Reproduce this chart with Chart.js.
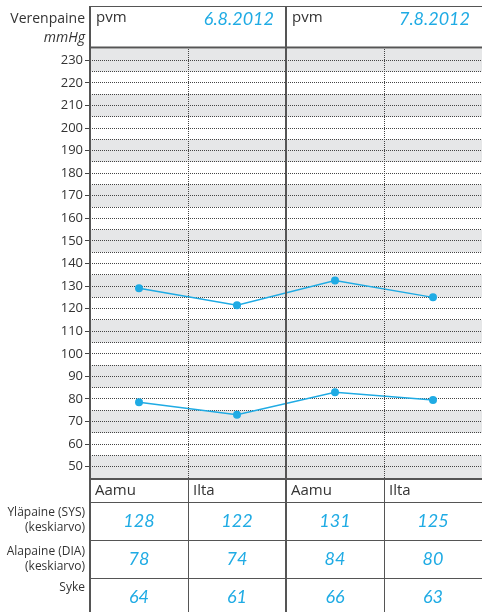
<!DOCTYPE html>
<html>
<head>
<meta charset="utf-8">
<script src="https://cdn.jsdelivr.net/npm/chart.js@4.4.1/dist/chart.umd.min.js"></script>
<style>
  html, body { margin: 0; padding: 0; background: #fff; }
  #wrap { position: relative; width: 482px; height: 612px; }
</style>
</head>
<body>
<div id="wrap"><canvas id="bpChart" width="482" height="612"></canvas></div>
<script>
const periods = ['Aamu', 'Ilta', 'Aamu', 'Ilta'];
const dates = ['6.8.2012', '7.8.2012'];
// plotted averages
const sysPlot = [129, 121.5, 132.5, 125];
const diaPlot = [78.5, 73, 83, 79.5];
// values written in the table
const sysTable = [128, 122, 131, 125];
const diaTable = [78, 74, 84, 80];
const pulse = [64, 61, 66, 63];
const rowLabels = [['Yläpaine (SYS)', '(keskiarvo)'], ['Alapaine (DIA)', '(keskiarvo)'], ['Syke']];

const blue = '#1fabe4';
const ink = '#333';
const line = '#555';
const hand = 'italic 18px Lato, "Open Sans", sans-serif';
const plain = '"Open Sans", "Noto Sans", sans-serif';

const formPlugin = {
    id: 'form',
    beforeDraw(chart) {
        const {ctx, chartArea: a, scales: {y}} = chart;
        // alternating grey bands, 10 mmHg each
        ctx.save();
        ctx.fillStyle = '#e6e7e8';
        for (let v = 235; v > 45; v -= 20) {
            const top = y.getPixelForValue(v);
            const bot = y.getPixelForValue(v - 10);
            ctx.fillRect(a.left, top, a.right - a.left, bot - top);
        }
        ctx.restore();
    },
    afterDraw(chart) {
        const {ctx, chartArea: a, scales: {x}} = chart;
        const W = chart.width, H = chart.height;
        const colW = (a.right - a.left) / periods.length;
        const edge = i => a.left + colW * i;
        const top = 6;

        ctx.save();
        // dotted separators inside the plot
        ctx.strokeStyle = '#444';
        ctx.lineWidth = 1;
        ctx.setLineDash([1, 1]);
        [1, 3].forEach(i => {
            const px = Math.round(edge(i)) + 0.5;
            ctx.beginPath();
            ctx.moveTo(px, a.top);
            ctx.lineTo(px, a.bottom);
            ctx.stroke();
        });
        ctx.setLineDash([]);

        // frame lines
        ctx.strokeStyle = line;
        const hline = (y0, x0, x1, w) => {
            ctx.lineWidth = w;
            ctx.beginPath();
            ctx.moveTo(x0, y0);
            ctx.lineTo(x1, y0);
            ctx.stroke();
        };
        const vline = (x0, y0, y1, w) => {
            ctx.lineWidth = w;
            ctx.beginPath();
            ctx.moveTo(x0, y0);
            ctx.lineTo(x0, y1);
            ctx.stroke();
        };
        hline(top + 0.5, a.left, W, 1);
        hline(a.top - 1.5, a.left, W, 2);
        hline(a.bottom + 1, a.left, W, 2);
        hline(502.5, a.left, W, 1);
        hline(540.5, a.left, W, 1);
        hline(578.5, a.left, W, 1);
        vline(a.left, top, H, 2);
        vline(Math.round(edge(2)), top, H, 2);
        [1, 3].forEach(i => vline(Math.round(edge(i)) + 0.5, a.bottom, H, 1));

        // header
        ctx.textBaseline = 'middle';
        ctx.fillStyle = ink;
        ctx.textAlign = 'right';
        ctx.font = '14px ' + plain;
        ctx.fillText('Verenpaine', a.left - 5, 19);
        ctx.font = 'italic 14px ' + plain;
        ctx.fillText('mmHg', a.left - 5, 38);
        dates.forEach((d, i) => {
            const x0 = edge(i * 2);
            ctx.fillStyle = ink;
            ctx.textAlign = 'left';
            ctx.font = '15px ' + plain;
            ctx.fillText('pvm', x0 + 6, 18);
            ctx.fillStyle = blue;
            ctx.textAlign = 'right';
            ctx.font = hand;
            ctx.fillText(d, edge(i * 2 + 2) - 12, 19);
        });

        // table
        ctx.fillStyle = ink;
        ctx.textAlign = 'left';
        ctx.font = '15px ' + plain;
        periods.forEach((p, i) => ctx.fillText(p, edge(i) + 5, 491));

        ctx.textAlign = 'right';
        ctx.font = '12px ' + plain;
        const labelY = [[513, 528], [552, 567], [588]];
        rowLabels.forEach((lines, r) => {
            lines.forEach((t, k) => ctx.fillText(t, a.left - 5, labelY[r][k]));
        });

        ctx.fillStyle = blue;
        ctx.textAlign = 'center';
        ctx.font = hand;
        const valueY = [521, 559, 597];
        [sysTable, diaTable, pulse].forEach((vals, r) => {
            vals.forEach((v, i) => ctx.fillText(String(v), x.getPixelForValue(i), valueY[r]));
        });
        ctx.restore();
    }
};

const ctx = document.getElementById('bpChart').getContext('2d');

const bpChart = new Chart(ctx, {
    type: 'line',
    data: {
        labels: periods,
        datasets: [{
            label: 'Yläpaine',
            data: sysPlot,
            borderColor: blue,
            backgroundColor: blue,
            borderWidth: 1.5,
            pointRadius: 4,
            pointBorderWidth: 0,
            tension: 0,
            fill: false
        }, {
            label: 'Alapaine',
            data: diaPlot,
            borderColor: blue,
            backgroundColor: blue,
            borderWidth: 1.5,
            pointRadius: 4,
            pointBorderWidth: 0,
            tension: 0,
            fill: false
        }]
    },
    options: {
        responsive: false,
        animation: false,
        layout: { autoPadding: false, padding: { top: 49, bottom: 134, left: 0, right: -2 } },
        scales: {
            x: {
                display: false,
                offset: true
            },
            y: {
                min: 45,
                max: 235,
                afterFit: scale => { scale.width = 90; },
                border: { display: false, dash: [1, 1] },
                grid: {
                    color: c => (c.tick && (c.tick.value === 45 || c.tick.value === 235)) ? 'rgba(0,0,0,0)' : '#444',
                    lineWidth: 1,
                    tickLength: 5,
                    tickColor: c => (c.tick && c.tick.value % 10 === 0) ? '#444' : 'rgba(0,0,0,0)'
                },
                ticks: {
                    stepSize: 5,
                    autoSkip: false,
                    padding: 2,
                    color: ink,
                    font: { family: plain, size: 13 },
                    callback: v => (v % 10 === 0 ? v : '')
                }
            }
        },
        plugins: {
            legend: { display: false },
            tooltip: { enabled: false }
        }
    },
    plugins: [formPlugin]
});
</script>
</body>
</html>
